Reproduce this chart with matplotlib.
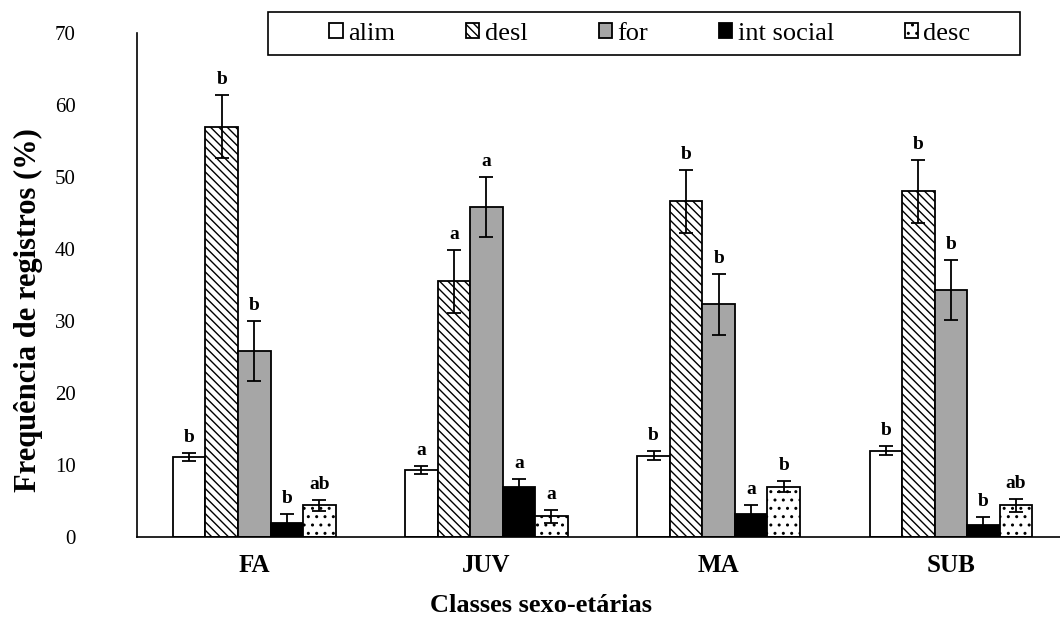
import numpy as np
import matplotlib.pyplot as plt
from matplotlib.patches import Rectangle

plt.rcParams['font.family'] = ['Liberation Serif', 'DejaVu Serif']
plt.rcParams['hatch.linewidth'] = 1.0

# data
classes = ["FA", "JUV", "MA", "SUB"]
behaviours = ["alim", "desl", "for", "int social", "desc"]

alim = [11.1, 9.3, 11.3, 12.0]
desl = [57.0, 35.5, 46.6, 48.0]
forr = [25.8, 45.8, 32.3, 34.3]
int_social = [2.0, 6.9, 3.2, 1.6]
desc = [4.4, 2.9, 7.0, 4.4]

alim_err = [0.6, 0.6, 0.6, 0.6]
desl_err = [4.4, 4.4, 4.4, 4.4]
forr_err = [4.2, 4.2, 4.2, 4.2]
int_social_err = [1.2, 1.2, 1.2, 1.2]
desc_err = [0.8, 0.9, 0.8, 0.9]

letters_alim = ["b", "a", "b", "b"]
letters_desl = ["b", "a", "b", "b"]
letters_forr = ["b", "a", "b", "b"]
letters_int = ["b", "a", "a", "b"]
letters_desc = ["ab", "a", "b", "ab"]

series = [alim, desl, forr, int_social, desc]
errors = [alim_err, desl_err, forr_err, int_social_err, desc_err]
letters = [letters_alim, letters_desl, letters_forr, letters_int, letters_desc]
colors = ["white", "white", "#a6a6a6", "black", "white"]
hatches = [None, "\\\\\\\\", None, None, ".."]

fig = plt.figure(figsize=(10.6, 6.19), dpi=100)
ax = fig.add_axes([137/1060, 1-537/619, 1-137/1060, (537-33)/619])

x = np.arange(len(classes))
w = 0.14
for i in range(5):
    pos = x + (i - 2) * w
    ax.bar(pos, series[i], w, color=colors[i], edgecolor="black", linewidth=1.3,
           hatch=hatches[i], label=behaviours[i], zorder=2)
    ax.errorbar(pos, series[i], yerr=errors[i], fmt="none", ecolor="black",
                elinewidth=1.3, capsize=5, capthick=1.3, zorder=3)
    for j in range(len(classes)):
        ax.annotate(letters[i][j], (pos[j], series[i][j] + errors[i][j]),
                    xytext=(0, 5), textcoords="offset points", ha="center",
                    va="bottom", fontsize=14, fontweight="bold")

ax.set_xlim(-0.505, 3.47)
ax.set_ylim(0, 70)
ax.set_yticks(range(0, 71, 10))
ax.set_xticks(x)
ax.set_xticklabels(classes, fontsize=18, fontweight="bold")
ax.tick_params(axis="y", length=0, pad=44, labelsize=15)
ax.tick_params(axis="x", length=0, pad=12)
for s in ["top", "right"]:
    ax.spines[s].set_visible(False)
ax.spines["left"].set_linewidth(1.2)
ax.spines["bottom"].set_linewidth(1.2)

fig.text(28/1060, 1-310/619, "Frequência de registros (%)", rotation=90,
         ha="center", va="center", fontsize=22, fontweight="bold")
fig.text(541/1060, 1-606/619, "Classes sexo-etárias", ha="center", va="center",
         fontsize=19, fontweight="bold")

# legend box drawn separately so the entries sit centred inside it
fig.patches.append(Rectangle((268/1060, 1-55/619), 752/1060, 43/619,
                             transform=fig.transFigure, fill=False,
                             edgecolor="black", linewidth=1.2))
fig.legend(loc="center", bbox_to_anchor=(650/1060, 1-34/619), ncol=5,
           fontsize=19, frameon=False, handlelength=0.5, handleheight=0.5,
           handletextpad=0.2, columnspacing=2.7)

plt.savefig("out.png", dpi=100)
